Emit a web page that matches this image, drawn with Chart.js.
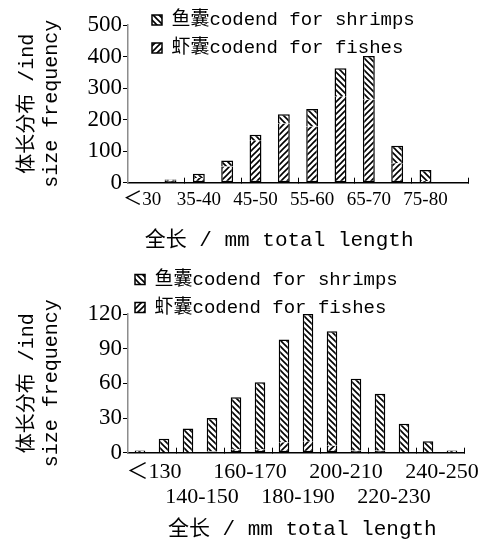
<!DOCTYPE html>
<html>
<head>
<meta charset="utf-8">
<script src="https://cdn.jsdelivr.net/npm/chart.js@4.4.0/dist/chart.umd.min.js"></script>
<style>
  body { margin: 0; background: #fff; }
  canvas { display: block; }
</style>
</head>
<body>
<canvas id="chartTop" width="488" height="258"></canvas>
<canvas id="chartBottom" width="488" height="288"></canvas>
<script>
// top chart, 30-80 mm
const topCategories = ['＜30', '30-35', '35-40', '40-45', '45-50', '50-55', '55-60', '60-65', '65-70', '70-75', '75-80', '＞80'];
const topFishes  = [0, 8, 15, 51, 133, 188, 178, 274, 263, 62, 5, 0];
const topShrimps = [0, 2, 13, 19, 19, 29, 56, 89, 139, 55, 35, 0];
const topTickLabels = ['＜30', '', '35-40', '', '45-50', '', '55-60', '', '65-70', '', '75-80', ''];

// bottom chart, 130-250 mm
const bottomCategories = ['＜130', '130-140', '140-150', '150-160', '160-170', '170-180', '180-190',
  '190-200', '200-210', '210-220', '220-230', '230-240', '240-250', '＞250'];
const bottomFishes  = [0, 0, 0, 1, 3, 3, 9, 10, 6, 2, 2, 0, 0, 0];
const bottomShrimps = [2, 12, 21, 29, 45, 58, 89, 110, 99, 62, 49, 25, 10, 2];
// second row labels are arrays with an empty first line
const bottomTickLabels = ['＜130', '', ['', '140-150'], '', '160-170', '', ['', '180-190'], '',
  '200-210', '', ['', '220-230'], '', '240-250', ''];

const shrimpsLabel = '鱼囊codend for shrimps';
const fishesLabel = '虾囊codend for fishes';
const yTitle = ['体长分布 /ind', 'size frequency'];

const monoCjk = "'Liberation Mono', 'Noto Sans CJK SC', monospace";
const serif = "'Liberation Serif', 'Noto Sans CJK SC', serif";

// hatch fill, '/' or '\'
function hatch(dir) {
  const c = document.createElement('canvas');
  c.width = 6; c.height = 6;
  const g = c.getContext('2d');
  g.fillStyle = '#fff';
  g.fillRect(0, 0, 6, 6);
  g.strokeStyle = '#000';
  g.lineWidth = 1.6;
  g.beginPath();
  if (dir === '/') {
    g.moveTo(0, 6); g.lineTo(6, 0);
    g.moveTo(-1, 1); g.lineTo(1, -1);
    g.moveTo(5, 7); g.lineTo(7, 5);
  } else {
    g.moveTo(0, 0); g.lineTo(6, 6);
    g.moveTo(5, -1); g.lineTo(7, 1);
    g.moveTo(-1, 5); g.lineTo(1, 7);
  }
  g.stroke();
  return g.createPattern(c, 'repeat');
}

const fishFill = hatch('/');
const shrimpFill = hatch('\\');

// lets the legend overlap the plot and start at a given x
const legendPlace = {
  id: 'legendPlace',
  beforeInit(chart, args, opts) {
    const fit = chart.legend.fit;
    chart.legend.fit = function () {
      fit.call(this);
      this.height = opts.height;
    };
  },
  afterLayout(chart, args, opts) {
    const lg = chart.legend;
    lg.left = opts.x - lg.options.labels.padding; // right edge stays, so rows still wrap
    // legend clips to its box, so give it room again once the plot is placed
    lg.bottom = lg.top + 70;
    lg.height = 70;
  }
};

function makeChart(id, s) {
  return new Chart(document.getElementById(id), {
    type: 'bar',
    data: {
      labels: s.categories,
      datasets: [
        {
          label: fishesLabel,
          data: s.fishes,
          backgroundColor: fishFill,
          borderColor: '#000',
          borderWidth: 1.5,
          borderSkipped: 'top'
        },
        {
          label: shrimpsLabel,
          data: s.shrimps,
          backgroundColor: shrimpFill,
          borderColor: '#000',
          borderWidth: 1.5,
          borderSkipped: 'bottom'
        }
      ]
    },
    plugins: [legendPlace],
    options: {
      responsive: false,
      animation: false,
      layout: { padding: { left: 0, right: s.right, top: s.top, bottom: 0 } },
      datasets: { bar: { categoryPercentage: 1, barPercentage: s.barPct } },
      plugins: {
        legend: {
          position: 'top',
          align: 'start',
          reverse: true,
          labels: {
            color: '#000',
            boxWidth: 10,
            boxHeight: 10,
            padding: 9,
            font: { family: monoCjk, size: 19 }
          }
        },
        legendPlace: { x: s.legendX, height: s.legendH },
        tooltip: { enabled: false }
      },
      scales: {
        x: {
          stacked: true,
          offset: true,
          ticks: {
            color: '#000',
            autoSkip: false,
            maxRotation: 0,
            padding: s.tickPad,
            labelOffset: s.labelOffset,
            font: { family: serif, size: s.xTickSize, lineHeight: 1.15 },
            callback: (v, i) => s.tickLabels[i]
          },
          grid: {
            offset: true,
            drawOnChartArea: false,
            tickLength: -5,
            lineWidth: 1,
            color: c => (c.index === undefined || (c.index > 0 && c.index % 2 === 0)) ? '#000' : 'rgba(0,0,0,0)'
          },
          border: { color: '#000', width: 1.5 },
          title: {
            display: true,
            text: s.xTitle,
            color: '#000',
            font: { family: monoCjk, size: 21 },
            padding: { top: 0, bottom: s.xTitlePad }
          },
          afterFit: sc => { sc.height = s.xHeight; }
        },
        y: {
          stacked: true,
          min: 0,
          max: s.yMax,
          ticks: {
            stepSize: s.yStep,
            color: '#000',
            padding: 1,
            font: { family: serif, size: 23 }
          },
          grid: { drawOnChartArea: false, color: '#000', tickLength: 5, lineWidth: 1 },
          border: { color: '#8c8c8c', width: 1.5 },
          title: {
            display: true,
            text: yTitle,
            color: '#000',
            font: { family: monoCjk, size: 20 },
            padding: { top: 16, bottom: 0 }
          },
          afterFit: sc => { sc.width = 128; }
        }
      }
    }
  });
}

makeChart('chartTop', {
  categories: topCategories,
  fishes: topFishes,
  shrimps: topShrimps,
  tickLabels: topTickLabels,
  xTitle: '全长 / mm total length   ',
  yMax: 500, yStep: 100,
  right: 20, top: 1.5,
  legendX: 152, legendH: 23.5,
  barPct: 0.42,
  xTickSize: 19, tickPad: 11, labelOffset: 0,
  xTitlePad: 5.4, xHeight: 75.3
});

makeChart('chartBottom', {
  categories: bottomCategories,
  fishes: bottomFishes,
  shrimps: bottomShrimps,
  tickLabels: bottomTickLabels,
  xTitle: ' 全长 / mm total length',
  yMax: 120, yStep: 30,
  right: 24, top: 3,
  legendX: 135, legendH: 53,
  barPct: 0.44,
  xTickSize: 22, tickPad: 11.5, labelOffset: 14,
  xTitlePad: 4.4, xHeight: 93.3
});
</script>
</body>
</html>
